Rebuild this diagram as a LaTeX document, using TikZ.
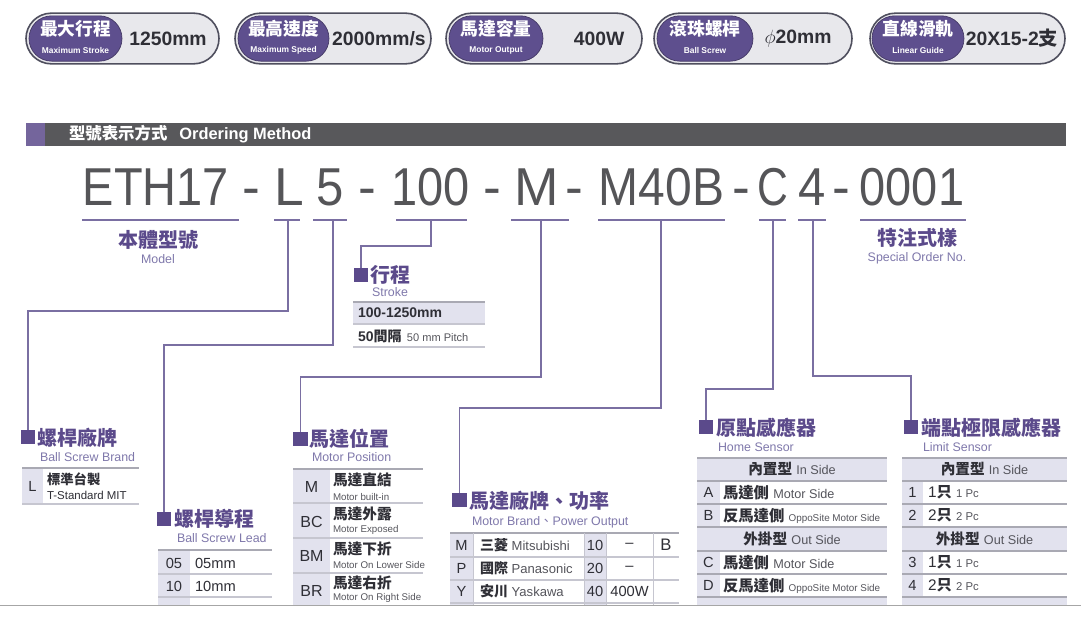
\documentclass[tikz,border=0pt]{standalone}
\usepackage{graphicx}
\usepackage{fontspec}
\setmainfont{Liberation Sans}
\newfontfamily\cjk{Noto Sans CJK TC}
\usetikzlibrary{calc}
\definecolor{pur}{HTML}{5B4A8B}
\definecolor{purl}{HTML}{7F78AB}
\definecolor{connc}{HTML}{7A6FA2}
\definecolor{codegrey}{HTML}{555558}
\definecolor{barc}{HTML}{58585B}
\definecolor{cellc}{HTML}{E2E2EE}
\definecolor{rulec}{HTML}{A9A9B3}
\definecolor{rulel}{HTML}{C6C6D0}
\definecolor{txtc}{HTML}{2F2F36}
\definecolor{engc}{HTML}{55555C}
\definecolor{badgefill}{HTML}{E8E8EC}
\definecolor{badgeedge}{HTML}{4F4F5E}
\definecolor{pillc}{HTML}{5E4F8E}
\newcommand\zhb[1]{{\cjk\bfseries #1}}
\newcommand\ensz[2]{{\color{engc}\fontsize{#1}{#1}\selectfont #2}}
\begin{document}
\begin{tikzpicture}[x=0.75pt,y=-0.75pt,
  every node/.style={inner sep=0pt, outer sep=0pt},
  bout/.style={draw=badgeedge, line width=1.2pt, fill=badgefill, rounded corners=19pt, minimum height=38pt},
  bpill/.style={draw=pillc!70!black, line width=0.5pt, fill=pillc, rounded corners=17pt, minimum height=34pt},
  bzh/.style={text=white, font=\cjk\bfseries\fontsize{13.3}{14}\selectfont},
  ben/.style={text=white, font=\bfseries\fontsize{6.3}{7}\selectfont},
  bval/.style={font=\bfseries\fontsize{14.5}{16}\selectfont, text=txtc},
  codetxt/.style={font=\fontsize{40}{44}\selectfont, text=codegrey, anchor=base},
  uline/.style={draw=connc, line width=1.1pt},
  connline/.style={draw=connc, line width=1.1pt},
  sq/.style={fill=pur, minimum size=11pt},
  ttl/.style={font=\cjk\bfseries\fontsize{15}{17}\selectfont, text=pur, anchor=west},
  ttlc/.style={font=\cjk\bfseries\fontsize{15}{17}\selectfont, text=pur},
  sub/.style={font=\fontsize{9.3}{10}\selectfont, text=purl, anchor=west},
  subc/.style={font=\fontsize{9.3}{10}\selectfont, text=purl},
  toprule/.style={draw=rulec, line width=1.6pt},
  midrule/.style={draw=rulel, line width=0.9pt},
  codec/.style={font=\fontsize{11}{12}\selectfont, text=txtc},
  rowt/.style={anchor=west, font=\fontsize{11.5}{13}\selectfont, text=txtc},
  hdrt/.style={font=\fontsize{11}{13}\selectfont, text=txtc},
  posz/.style={anchor=west, font=\cjk\bfseries\fontsize{11}{12}\selectfont, text=txtc},
  pose/.style={anchor=west, font=\fontsize{7.3}{8}\selectfont, text=engc}
]
\useasboundingbox (0,0) rectangle (1081,629);
\fill[white] (0,0) rectangle (1081,629);

% ---------------- badges
\node[bout, minimum width=144.75pt] (bo1) at (122.5,38.5) {};
\node[bpill, minimum width=69.75pt] (bp1) at (75.5,38.5) {};
\node[bzh] (bz1) at (75.5,29) {最大行程};
\node[ben] (be1) at (75.5,50) {Maximum Stroke};
\node[bval] (bv1) at (168,38.5) {1250mm};

\node[bout, minimum width=147pt] (bo2) at (333,38.5) {};
\node[bpill, minimum width=68.25pt] (bp2) at (283.5,38.5) {};
\node[bzh] (bz2) at (283.5,29) {最高速度};
\node[ben] (be2) at (283.5,50) {Maximum Speed};
\node[bval] (bv2) at (379,38.5) {2000mm/s};

\node[bout, minimum width=147pt] (bo3) at (544,38.5) {};
\node[bpill, minimum width=70.5pt] (bp3) at (496,38.5) {};
\node[bzh] (bz3) at (496,29) {馬達容量};
\node[ben] (be3) at (496,50) {Motor Output};
\node[bval] (bv3) at (599,38.5) {400W};

\node[bout, minimum width=148.5pt] (bo4) at (753,38.5) {};
\node[bpill, minimum width=72pt] (bp4) at (705,38.5) {};
\node[bzh] (bz4) at (705,29) {滾珠螺桿};
\node[ben] (be4) at (705,50) {Ball Screw};
\node[bval] (bv4) at (798,38.5) {$\phi$20mm};

\node[bout, minimum width=146.25pt] (bo5) at (967.5,38.5) {};
\node[bpill, minimum width=69pt] (bp5) at (918,38.5) {};
\node[bzh] (bz5) at (918,29) {直線滑軌};
\node[ben] (be5) at (918,50) {Linear Guide};
\node[bval] (bv5) at (1012,38.5) {20X15-2\zhb{支}};

% ---------------- header bar
\fill[barc] (26,123) rectangle (1066,146);
\fill[pur!85!white] (26,123) rectangle (45,146);
\node[anchor=west, text=white, font=\fontsize{12.3}{14}\selectfont] (hdrtxt) at (69,134.5)
  {\zhb{型號表示方式}\hspace{9pt}{\bfseries Ordering Method}};

% ---------------- code line
\node[codetxt] (cETH) at (156,205) {\scalebox{0.88}[1]{ETH17}};
\node[codetxt] (cd1) at (251,205) {-};
\node[codetxt] (cL) at (289,205) {L};
\node[codetxt] (c5) at (330.5,205) {\scalebox{0.92}[1]{5}};
\node[codetxt] (cd2) at (367,205) {-};
\node[codetxt] (c100) at (430.5,205) {\scalebox{0.88}[1]{100}};
\node[codetxt] (cd3) at (492,205) {-};
\node[codetxt] (cM) at (537,205) {M};
\node[codetxt] (cd4) at (574,205) {-};
\node[codetxt] (cM40) at (661.5,205) {\scalebox{0.9}[1]{M40B}};
\node[codetxt] (cd5) at (741,205) {-};
\node[codetxt] (cC) at (772.5,205) {\scalebox{0.8}[1]{C}};
\node[codetxt] (c4) at (812,205) {\scalebox{0.92}[1]{4}};
\node[codetxt] (cd6) at (841,205) {-};
\node[codetxt] (c0001) at (912,205) {\scalebox{0.88}[1]{0001}};

% underlines
\draw[uline] (82,220) -- (239,220);
\draw[uline] (274,220) -- (300,220);
\draw[uline] (313,220) -- (347,220);
\draw[uline] (396,220) -- (467,220);
\draw[uline] (511,220) -- (569,220);
\draw[uline] (598,220) -- (725,220);
\draw[uline] (759,220) -- (786,220);
\draw[uline] (798,220) -- (826,220);
\draw[uline] (860,220) -- (966,220);
\coordinate (uL) at (288,220);
\coordinate (u5) at (333,220);
\coordinate (u100) at (431,220);
\coordinate (uM) at (541,220);
\coordinate (uM40) at (661,220);
\coordinate (uC) at (773,220);
\coordinate (u4) at (813,220);

% labels under code
\node[ttlc] (tModel) at (158,240) {本體型號};
\node[subc] (sModel) at (158,259) {Model};
\node[ttlc] (tSpec) at (917,238) {特注式樣};
\node[subc] (sSpec) at (917,258) {Special Order No.};

% ---------------- squares and titles
\node[sq] (sqStroke) at (361,275) {};
\node[sq] (sqBrand) at (28,437) {};
\node[sq] (sqLead) at (164,519) {};
\node[sq] (sqPos) at (300.5,439) {};
\node[sq] (sqMotor) at (459.5,500) {};
\node[sq] (sqHome) at (706,427) {};
\node[sq] (sqLimit) at (911,427) {};

\node[ttl] (tStroke) at (370,275) {行程};
\node[subc] (sStroke) at (390,292) {Stroke};
\node[ttl] (tBrand) at (37,438) {螺桿廠牌};
\node[sub] (sBrand) at (40,457) {Ball Screw Brand};
\node[ttl] (tLead) at (174,519) {螺桿導程};
\node[sub] (sLead) at (177,538) {Ball Screw Lead};
\node[ttl] (tPos) at (309,439) {馬達位置};
\node[sub] (sPos) at (312,457) {Motor Position};
\node[ttl] (tMotor) at (469,501) {馬達廠牌、功率};
\node[sub] (sMotor) at (472,522) {Motor Brand{\cjk 、}Power Output};
\node[ttl] (tHome) at (716,428) {原點感應器};
\node[sub] (sHome) at (718,447) {Home Sensor};
\node[ttl] (tLimit) at (921,428) {端點極限感應器};
\node[sub] (sLimit) at (923,447) {Limit Sensor};

% ---------------- connectors
\draw[connline] (uL) -- ++(0,91) -| (sqBrand.north);
\draw[connline] (u5) -- ++(0,125) -| (sqLead.north);
\draw[connline] (u100) -- ++(0,26) -| (sqStroke.north);
\draw[connline] (uM) -- ++(0,157) -| (sqPos.north);
\draw[connline] (uM40) -- ++(0,188) -| (sqMotor.north);
\draw[connline] (uC) -- ++(0,169) -| (sqHome.north);
\draw[connline] (u4) -- ++(0,156) -| (sqLimit.north);

% ---------------- stroke table
\fill[cellc] (353,302) rectangle (485,323);
\draw[toprule] (353,302) -- (485,302);
\draw[midrule] (353,324) -- (485,324);
\draw[midrule, line width=1.3pt] (353,347) -- (485,347);
\node[rowt, font=\bfseries\fontsize{10.5}{12}\selectfont] (st1) at (358,313) {100-1250mm};
\node[rowt, font=\fontsize{10.5}{12}\selectfont] (st2) at (358,336) {{\bfseries 50}\zhb{間隔}\hspace{4pt}\ensz{8.3}{50 mm Pitch}};

% ---------------- ball screw brand table
\fill[cellc] (22,468) rectangle (43,504);
\draw[toprule] (22,468) -- (139,468);
\draw[midrule, line width=1.3pt] (22,504) -- (139,504);
\node[codec] (brL) at (32.5,486) {L};
\node[posz, font=\cjk\bfseries\fontsize{10}{11}\selectfont] (brz) at (47,479) {標準台製};
\node[pose, font=\fontsize{8.6}{9}\selectfont, text=txtc] (bre) at (47,495) {T-Standard MIT};

% ---------------- ball screw lead table
\fill[cellc] (158,550) rectangle (190,605);
\draw[toprule] (158,550) -- (272,550);
\draw[midrule] (158,574) -- (272,574);
\draw[midrule] (158,597) -- (272,597);
\node[codec] (ld1) at (174,563) {05};
\node[rowt, font=\fontsize{11}{12}\selectfont] (ld1v) at (195,563) {05mm};
\node[codec] (ld2) at (174,586) {10};
\node[rowt, font=\fontsize{11}{12}\selectfont] (ld2v) at (195,586) {10mm};

% ---------------- motor position table
\fill[cellc] (293,469) rectangle (330,605);
\draw[toprule] (293,469) -- (423,469);
\draw[midrule] (293,503) -- (423,503);
\draw[midrule] (293,538) -- (423,538);
\draw[midrule] (293,573) -- (423,573);
\node[codec, font=\fontsize{12}{13}\selectfont] (pM) at (311.5,487) {M};
\node[posz] (pMz) at (333,480) {馬達直結};
\node[pose] (pMe) at (333,497) {Motor built-in};
\node[codec, font=\fontsize{12}{13}\selectfont] (pBC) at (311.5,522) {BC};
\node[posz] (pBCz) at (333,514) {馬達外露};
\node[pose] (pBCe) at (333,530) {Motor Exposed};
\node[codec, font=\fontsize{12}{13}\selectfont] (pBM) at (311.5,556) {BM};
\node[posz] (pBMz) at (333,549) {馬達下折};
\node[pose] (pBMe) at (333,565) {Motor On Lower Side};
\node[codec, font=\fontsize{12}{13}\selectfont] (pBR) at (311.5,591) {BR};
\node[posz] (pBRz) at (333,583) {馬達右折};
\node[pose] (pBRe) at (333,598) {Motor On Right Side};

% ---------------- motor brand / power table
\fill[cellc] (450,533) rectangle (473,605);
\fill[cellc] (584,533) rectangle (606,605);
\draw[toprule] (450,533) -- (679,533);
\draw[midrule] (450,557) -- (679,557);
\draw[midrule] (450,580) -- (679,580);
\draw[midrule] (450,603) -- (679,603);
\foreach \xx in {473,584,606,653} \draw[draw=rulel, line width=0.6pt] (\xx,533) -- (\xx,605);
\node[codec] (mM) at (461.5,545) {M};
\node[rowt, font=\fontsize{10}{11}\selectfont] (mMb) at (480,545) {\zhb{\fontsize{10.5}{11}\selectfont 三菱} \ensz{9.8}{Mitsubishi}};
\node[codec] (mM10) at (595,545) {10};
\node[codec] (mMp) at (629.5,545) {--};
\node[codec, font=\fontsize{12.5}{13}\selectfont] (mB) at (666,545) {B};
\node[codec] (mP) at (461.5,568.5) {P};
\node[rowt, font=\fontsize{10}{11}\selectfont] (mPb) at (480,568.5) {\zhb{\fontsize{10.5}{11}\selectfont 國際} \ensz{9.8}{Panasonic}};
\node[codec] (mP20) at (595,568.5) {20};
\node[codec] (mPp) at (629.5,568.5) {--};
\node[codec] (mY) at (461.5,591.5) {Y};
\node[rowt, font=\fontsize{10}{11}\selectfont] (mYb) at (480,591.5) {\zhb{\fontsize{10.5}{11}\selectfont 安川} \ensz{9.8}{Yaskawa}};
\node[codec] (mY40) at (595,591.5) {40};
\node[codec] (mYp) at (629.5,591.5) {400W};

% ---------------- home sensor table
\fill[cellc] (697,458) rectangle (887,481);
\fill[cellc] (697,481) rectangle (720,527);
\fill[cellc] (697,527) rectangle (887,551);
\fill[cellc] (697,551) rectangle (720,597);
\fill[cellc] (697,597) rectangle (887,605);
\draw[toprule] (697,458) -- (887,458);
\foreach \yy in {481,504,527,551,574,597} \draw[midrule, draw=rulec] (697,\yy) -- (887,\yy);
\node[hdrt] (hh1) at (792,469.5) {\zhb{內置型} \ensz{9.5}{In Side}};
\node[codec] (hA) at (708.5,492.5) {A};
\node[rowt] (hAt) at (723,492.5) {\zhb{馬達側} \ensz{9.5}{Motor Side}};
\node[codec] (hB) at (708.5,515.5) {B};
\node[rowt] (hBt) at (723,515.5) {\zhb{反馬達側} \ensz{7.4}{OppoSite Motor Side}};
\node[hdrt] (hh2) at (792,539) {\zhb{外掛型} \ensz{9.5}{Out Side}};
\node[codec] (hC) at (708.5,562.5) {C};
\node[rowt] (hCt) at (723,562.5) {\zhb{馬達側} \ensz{9.5}{Motor Side}};
\node[codec] (hD) at (708.5,585.5) {D};
\node[rowt] (hDt) at (723,585.5) {\zhb{反馬達側} \ensz{7.4}{OppoSite Motor Side}};

% ---------------- limit sensor table
\fill[cellc] (902,458) rectangle (1067,481);
\fill[cellc] (902,481) rectangle (923,527);
\fill[cellc] (902,527) rectangle (1067,551);
\fill[cellc] (902,551) rectangle (923,597);
\fill[cellc] (902,597) rectangle (1067,605);
\draw[toprule] (902,458) -- (1067,458);
\foreach \yy in {481,504,527,551,574,597} \draw[midrule, draw=rulec] (902,\yy) -- (1067,\yy);
\node[hdrt] (lh1) at (984.5,469.5) {\zhb{內置型} \ensz{9.5}{In Side}};
\node[codec] (l1) at (912.5,492.5) {1};
\node[rowt] (l1t) at (928,492.5) {1\zhb{只} \ensz{8.5}{1 Pc}};
\node[codec] (l2) at (912.5,515.5) {2};
\node[rowt] (l2t) at (928,515.5) {2\zhb{只} \ensz{8.5}{2 Pc}};
\node[hdrt] (lh2) at (984.5,539) {\zhb{外掛型} \ensz{9.5}{Out Side}};
\node[codec] (l3) at (912.5,562.5) {3};
\node[rowt] (l3t) at (928,562.5) {1\zhb{只} \ensz{8.5}{1 Pc}};
\node[codec] (l4) at (912.5,585.5) {4};
\node[rowt] (l4t) at (928,585.5) {2\zhb{只} \ensz{8.5}{2 Pc}};

% ---------------- cut line
\draw[draw=black!35, line width=1pt] (0,605.5) -- (1081,605.5);
\end{tikzpicture}
\end{document}
